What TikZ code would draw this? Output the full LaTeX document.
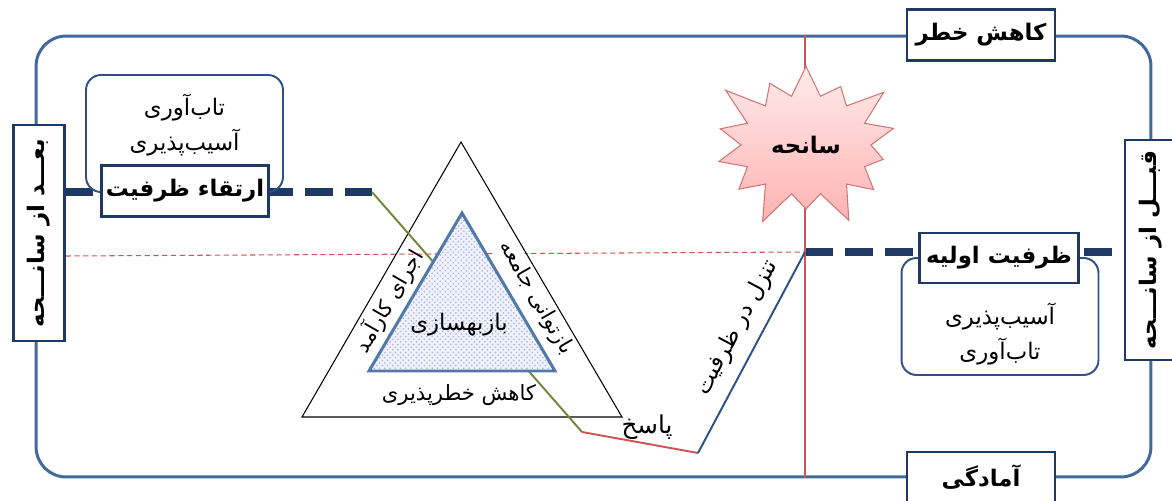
\documentclass[tikz,border=0pt]{standalone}
\usepackage{fontspec}
\newfontfamily\farsi[Script=Arabic]{DejaVu Sans}
\TeXXeTstate=1
\newcommand{\fatxt}[1]{{\farsi\beginR #1\endR}}
\usetikzlibrary{shapes.symbols,patterns,calc,backgrounds}

\definecolor{framecol}{RGB}{65,105,155}
\definecolor{navy}{RGB}{30,58,100}
\definecolor{alarm}{RGB}{205,85,85}
\definecolor{olive}{RGB}{110,135,55}
\definecolor{dropcol}{RGB}{45,80,135}
\definecolor{innercol}{RGB}{80,120,168}
\definecolor{burst}{RGB}{215,115,115}

\begin{document}
\begin{tikzpicture}[
    x=0.02cm, y=-0.02cm,
    stagebox/.style={draw=navy, line width=1.2pt, fill=white, inner sep=0pt, font=\bfseries\fontsize{13}{15}\selectfont},
    notebox/.style={draw=dropcol, line width=1.1pt, rounded corners=0.3cm, minimum width=3.94cm, minimum height=2.34cm},
    notetext/.style={align=center, font=\fontsize{13}{20}\selectfont},
    level/.style={navy, line width=5pt, dash pattern=on 15.9pt off 6.8pt},
    sidelabel/.style={font=\fontsize{12}{14}\selectfont, inner sep=1pt},
    thinline/.style={line width=1.1pt}
]
    \clip (0,0) rectangle (1172,500);

    % 1. Frame and the disaster axis
    \node[draw=framecol, line width=1.7pt, rounded corners=0.6cm, minimum width=22.3cm, minimum height=8.82cm] (frame) at (593.5,256.5) {};

    \coordinate (rise) at (372,192);
    \coordinate (resp) at (582,432);
    \coordinate (low) at (698,453);
    \coordinate (drop) at (805,252);

    \draw[alarm, line width=0.6pt] (drop |- frame.north) -- (drop |- frame.south);

    % 2. Notes above and below the capacity levels
    \node[notebox] (oldnote) at (184.5,133.5) {};
    \node[notetext] (oldtext) at (184.5,125) {\fatxt{تاب‌آوری}\\\fatxt{آسیب‌پذیری}};
    \node[notebox] (newnote) at (1000,316.5) {};
    \node[notetext] (newtext) at (1000,334) {\fatxt{آسیب‌پذیری}\\\fatxt{تاب‌آوری}};

    % 3. Triangle of recovery
    \coordinate (top) at (461,142);
    \coordinate (bl) at (302,417);
    \coordinate (br) at (622,417);
    \coordinate (itop) at (462,213);
    \coordinate (ibl) at (369,371);
    \coordinate (ibr) at (555,371);

    \node[sidelabel, rotate=60] (effective) at (389,301) {\fatxt{اجرای کارآمد}};
    \node[sidelabel, rotate=-60, fill=white] (rehab) at (536,298) {\fatxt{بازتوانی جامعه}};
    \draw[line width=0.6pt] (top) -- (bl) -- (br) -- cycle;
    \draw[olive, thinline] (rise) -- (resp);
    \draw[innercol, line width=1.7pt, preaction={fill=blue!6}, pattern=crosshatch dots, pattern color=innercol!55] (itop) -- (ibl) -- (ibr) -- cycle;
    \node[font=\fontsize{13}{15}\selectfont] (rebuild) at (459,325) {\fatxt{بازبهسازی}};
    \node[sidelabel] (lessrisk) at (459,395) {\fatxt{کاهش خطرپذیری}};

    % 4. Capacity path
    \draw[alarm, thinline] (resp) -- (low);
    \draw[dropcol, thinline] (low) -- (drop);
    \node[sidelabel, font=\fontsize{14}{16}\selectfont] (response) at (647,427) {\fatxt{پاسخ}};
    \node[sidelabel, font=\fontsize{13}{15}\selectfont, rotate=62] (decline) at (737,328) {\fatxt{تنزل در ظرفیت}};

    \node[starburst, starburst points=14, starburst point height=0.8cm, draw=burst, line width=0.6pt,
          top color=red!8, bottom color=red!30, minimum width=4.2cm, minimum height=3.6cm,
          font=\bfseries\fontsize{13}{15}\selectfont] (disaster) at (806,145) {\fatxt{سانحه}};

    % 5. Phase boxes
    \node[stagebox, minimum width=2.96cm, minimum height=1.02cm] (mitigation) at (981,35) {\fatxt{کاهش خطر}};
    \node[stagebox, minimum width=2.96cm, minimum height=1.0cm] (readiness) at (981,477) {\fatxt{آمادگی}};
    \node[stagebox, rotate=90, minimum width=4.32cm, minimum height=1.02cm] (after) at (39,233) {\fatxt{بعـــد از سانـــحه}};
    \node[stagebox, rotate=90, minimum width=4.4cm, minimum height=1.02cm] (before) at (1150.5,250) {\fatxt{قبـــل از سانـــحه}};
    \node[stagebox, minimum width=3.34cm, minimum height=1.02cm] (upgrade) at (185,191) {\fatxt{ارتقاء ظرفیت}};
    \node[stagebox, minimum width=3.18cm, minimum height=1.0cm] (initial) at (999,258) {\fatxt{ظرفیت اولیه}};

    % 6. Levels behind the boxes
    \begin{scope}[on background layer]
        \draw[alarm, line width=0.6pt, dash pattern=on 3pt off 2pt] ([yshift=-0.46cm]after.south) -- (drop);
        \draw[level] (after.south |- rise) -- (rise);
        \draw[level] (drop) -- (drop -| before.north);
    \end{scope}

\end{tikzpicture}
\end{document}
